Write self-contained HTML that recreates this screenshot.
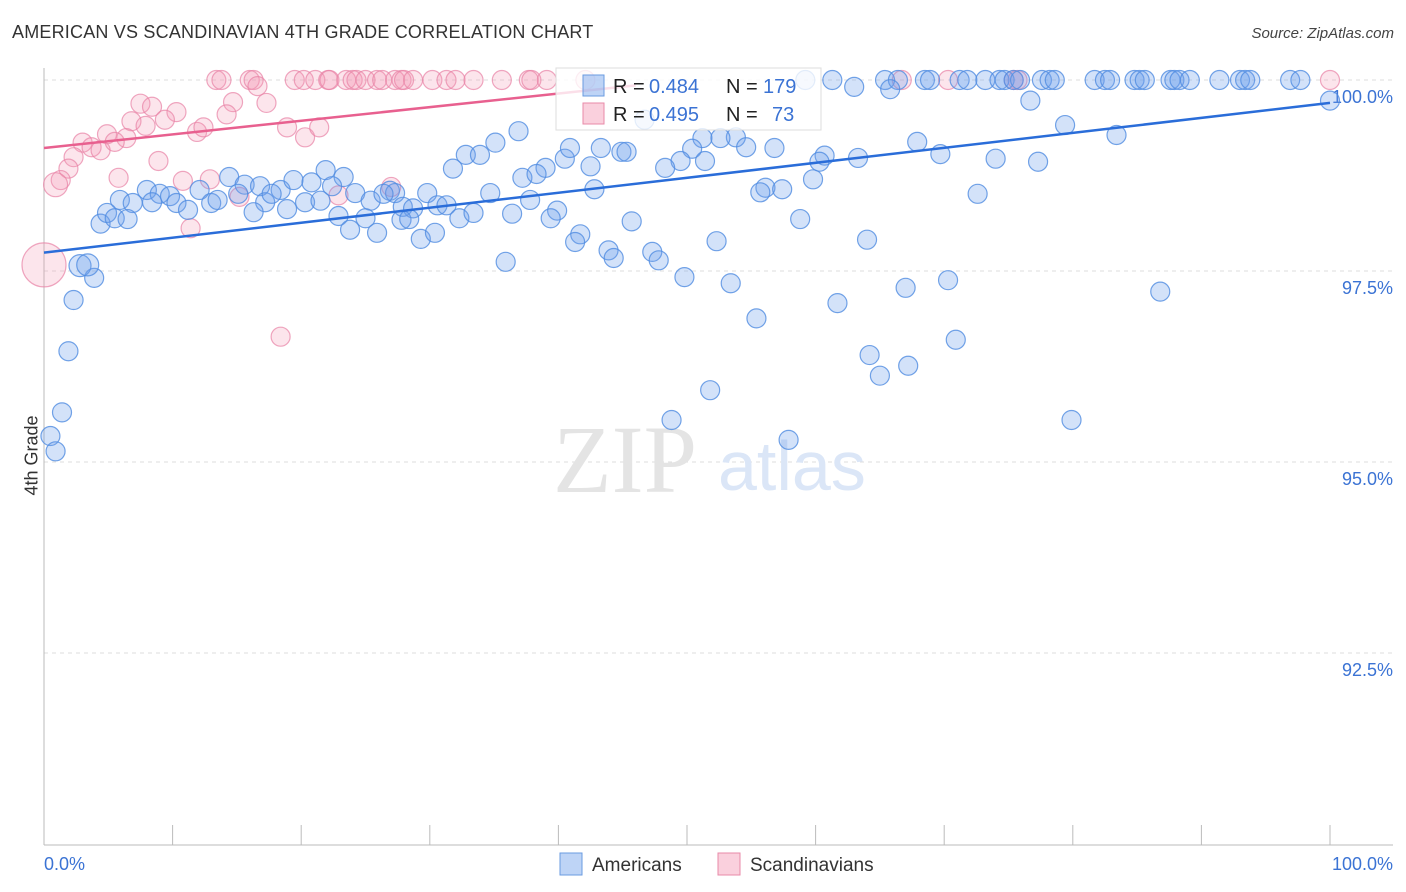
<!DOCTYPE html>
<html><head><meta charset="utf-8"><style>
body{margin:0;background:#fff;font-family:"Liberation Sans",sans-serif;}
#wrap{position:relative;width:1406px;height:892px;overflow:hidden;}
.t{position:absolute;white-space:nowrap;}
</style></head><body>
<div id="wrap">
<div class="t" style="left:12px;top:22px;font-size:18px;color:#333;letter-spacing:0.2px">AMERICAN VS SCANDINAVIAN 4TH GRADE CORRELATION CHART</div>
<div class="t" style="right:12px;top:25px;font-size:15px;color:#444;font-style:italic">Source: ZipAtlas.com</div>
<div class="t" style="left:-8px;top:445px;font-size:18px;color:#333;transform:rotate(-90deg);transform-origin:center">4th Grade</div>
<svg id="svg" width="1406" height="892" style="position:absolute;left:0;top:0"></svg>
</div>
<script>
const yTicks=[100,97.5,95,92.5];
const yTickLabels=["100.0%","97.5%","95.0%","92.5%"];
const xTicks=[0,10,20,30,40,50,60,70,80,90,100];
const amerTopX=[59.2,61.3,65.4,66.4,68.5,68.9,71.2,71.8,73.2,74.3,74.7,75.4,75.9,77.6,78.2,78.6,81.7,82.5,82.9,84.8,85.2,85.6,87.6,87.9,88.3,89.1,91.4,93.0,93.4,93.8,96.9,97.7];
const amerX=[63.0,65.8,76.7,100,46.7,79.4,83.4,36.9,35.1,32.8,33.9,51.2,53.8,52.6,54.6,56.8,50.4,40.5,40.9,43.3,44.9,45.3,67.9,69.7,74.0,77.3,60.7,60.3,63.3,49.5,51.4,48.3,42.5,39.0,37.2,38.3,31.8,59.8,56.1,55.7,57.4,42.8,72.6,21.9,14.4,23.3,15.6,16.8,18.4,19.4,20.8,22.4,24.2,26.9,27.3,29.8,34.7,8.0,9.0,9.8,12.1,5.9,6.9,8.4,10.3,11.2,13.0,13.5,15.1,17.2,17.7,18.9,20.3,21.5,25.4,26.4,27.9,28.7,30.6,31.3,32.3,33.4,36.4,37.8,39.9,39.4,4.4,4.9,5.5,6.5,16.3,22.9,25.0,23.8,27.8,28.4,25.9,29.3,30.4,45.7,58.8,41.7,41.3,52.3,64.0,35.9,43.9,44.3,47.3,47.8,49.8,53.4,70.3,67.0,86.8,2.3,3.9,61.7,55.4,70.9,1.9,64.2,65.0,67.2,51.8,1.4,0.5,0.9,48.8,79.9,57.9];
const amerY=[99.91,99.88,99.73,99.73,99.48,99.41,99.28,99.33,99.18,99.02,99.02,99.24,99.25,99.24,99.12,99.11,99.10,98.97,99.11,99.11,99.06,99.06,99.19,99.03,98.97,98.93,99.01,98.93,98.98,98.94,98.94,98.85,98.87,98.85,98.72,98.77,98.84,98.70,98.59,98.53,98.57,98.57,98.51,98.82,98.73,98.73,98.63,98.61,98.56,98.69,98.66,98.61,98.52,98.55,98.52,98.52,98.52,98.56,98.51,98.48,98.56,98.43,98.39,98.40,98.39,98.30,98.39,98.43,98.51,98.40,98.51,98.31,98.40,98.42,98.42,98.51,98.34,98.32,98.36,98.36,98.19,98.26,98.25,98.43,98.29,98.19,98.12,98.26,98.19,98.18,98.27,98.22,98.19,98.04,98.17,98.18,98.00,97.92,98.00,98.15,98.18,97.98,97.88,97.89,97.91,97.62,97.77,97.67,97.75,97.64,97.42,97.34,97.38,97.28,97.23,97.12,97.41,97.08,96.88,96.60,96.45,96.40,96.13,96.26,95.94,95.65,95.34,95.14,95.55,95.55,95.29];
const amerBigX=[2.8,3.4];
const amerBigY=[97.57,97.58];
const scanTopX=[13.4,13.8,16.0,16.3,19.5,20.2,21.1,22.1,22.2,23.5,24.0,24.3,25.0,25.9,26.3,27.3,27.8,28.0,28.7,30.2,31.3,32.0,33.4,35.6,37.7,37.9,39.1,42.1,66.7,70.3,75.4,75.7,100];
const scanX=[16.6,7.5,8.4,10.3,14.7,17.3,9.4,6.8,7.9,4.9,6.4,3.0,3.7,4.4,11.9,12.4,14.2,18.9,20.3,21.4,5.5,2.3,8.9,1.9,1.3,5.8,10.8,12.9,15.2,22.9,27.0,11.4,18.4];
const scanY=[99.92,99.69,99.65,99.58,99.71,99.70,99.48,99.46,99.40,99.29,99.24,99.18,99.12,99.08,99.32,99.38,99.55,99.38,99.25,99.38,99.19,98.99,98.94,98.84,98.69,98.72,98.68,98.70,98.47,98.49,98.60,98.06,96.64];
const scanBigX=[0.9,0];
const scanBigY=[98.63,97.58];
const scanBigR=[12,22];
const amerTrend=[[0,97.74],[100,99.70]];
const scanTrend=[[0,99.11],[46,99.93]];

const NS="http://www.w3.org/2000/svg";
const svg=document.getElementById('svg');
const X=v=>44+v*12.86;
const Y=v=>80+(100-v)*76.4;
function mk(t,a,p){const e=document.createElementNS(NS,t);for(const k in a)e.setAttribute(k,a[k]);(p||svg).appendChild(e);return e;}
yTicks.forEach((v,i)=>{
 const g=mk('line',{x1:44,x2:1393,y1:Y(v),y2:Y(v),stroke:'#ddd','stroke-dasharray':'4,4'});
 
 
 const t=mk('text',{x:1393,y:Y(v)+23,'text-anchor':'end','font-size':18,fill:'#3b73d4','font-family':'Liberation Sans, sans-serif'});
 t.textContent=yTickLabels[i];
 
 
});
const ax=mk('line',{x1:44,x2:44,y1:68,y2:845,stroke:'#bbb'});


const bx=mk('line',{x1:44,x2:1393,y1:845,y2:845,stroke:'#bbb'});


xTicks.forEach(v=>{const l=mk('line',{x1:X(v),x2:X(v),y1:825,y2:845,stroke:'#bbb'});
 
 });
const w1=mk('text',{x:553,y:492,'font-size':96,fill:'#e4e4e4','font-family':'Liberation Serif, serif'});w1.textContent='ZIP';


const w2=mk('text',{x:718,y:490,'font-size':70,fill:'#dbe6f7','font-family':'Liberation Sans, sans-serif'});w2.textContent='atlas';


function dot(x,y,r,c,name){const d=mk('circle',{cx:X(x),cy:Y(y),r:r,fill:c[0],stroke:c[1],'stroke-width':1.2});
 
 }
const PC=['rgba(244,150,180,0.25)','rgba(232,130,165,0.7)'];
const BC=['rgba(110,160,235,0.3)','rgba(80,140,225,0.8)'];
scanTopX.forEach(x=>dot(x,100,9.5,PC,'scandinavian-point'));
scanX.forEach((x,i)=>dot(x,scanY[i],9.5,PC,'scandinavian-point'));
scanBigX.forEach((x,i)=>dot(x,scanBigY[i],scanBigR[i],PC,'scandinavian-point'));
amerTopX.forEach(x=>dot(x,100,9.5,BC,'american-point'));
amerX.forEach((x,i)=>dot(x,amerY[i],9.5,BC,'american-point'));
amerBigX.forEach((x,i)=>dot(x,amerBigY[i],11,BC,'american-point'));
const tl=mk('line',{x1:X(amerTrend[0][0]),y1:Y(amerTrend[0][1]),x2:X(amerTrend[1][0]),y2:Y(amerTrend[1][1]),stroke:'#2a6dd9','stroke-width':2.5});


const tp=mk('line',{x1:X(scanTrend[0][0]),y1:Y(scanTrend[0][1]),x2:X(scanTrend[1][0]),y2:Y(scanTrend[1][1]),stroke:'#e8608f','stroke-width':2.5});


const lg=mk('rect',{x:556,y:68,width:265,height:62,fill:'rgba(255,255,255,0.8)',stroke:'#ddd'});


[[75,'rgba(110,160,235,0.45)','#6a9be0','0.484','179',763],[103,'rgba(244,150,180,0.45)','#e88aa8','0.495','73',772]].forEach(r=>{
 const s=mk('rect',{x:583,y:r[0],width:21,height:21,fill:r[1],stroke:r[2]});
 
 
 const parts=[[613,'R =','#222'],[649,r[3],'#3b73d4'],[726,'N =','#222'],[r[5],r[4],'#3b73d4']];
 parts.forEach(p=>{
  const t=mk('text',{x:p[0],y:r[0]+18,'font-size':20,fill:p[2],'font-family':'Liberation Sans, sans-serif'});
  t.textContent=p[1];
  
  
 });
});
const x0=mk('text',{x:44,y:870,'font-size':18,fill:'#3b73d4','font-family':'Liberation Sans, sans-serif'});x0.textContent='0.0%';


const x1=mk('text',{x:1393,y:870,'text-anchor':'end','font-size':18,fill:'#3b73d4','font-family':'Liberation Sans, sans-serif'});x1.textContent='100.0%';


[[560,'rgba(110,160,235,0.45)','#6a9be0','Americans','legend-americans'],[718,'rgba(244,150,180,0.45)','#e88aa8','Scandinavians','legend-scandinavians']].forEach(r=>{
 const s=mk('rect',{x:r[0],y:853,width:22,height:22,fill:r[1],stroke:r[2]});
 
 
 const t=mk('text',{x:r[0]+32,y:871,'font-size':19,fill:'#333','font-family':'Liberation Sans, sans-serif'});t.textContent=r[3];
 
 
});
</script>
</body></html>
